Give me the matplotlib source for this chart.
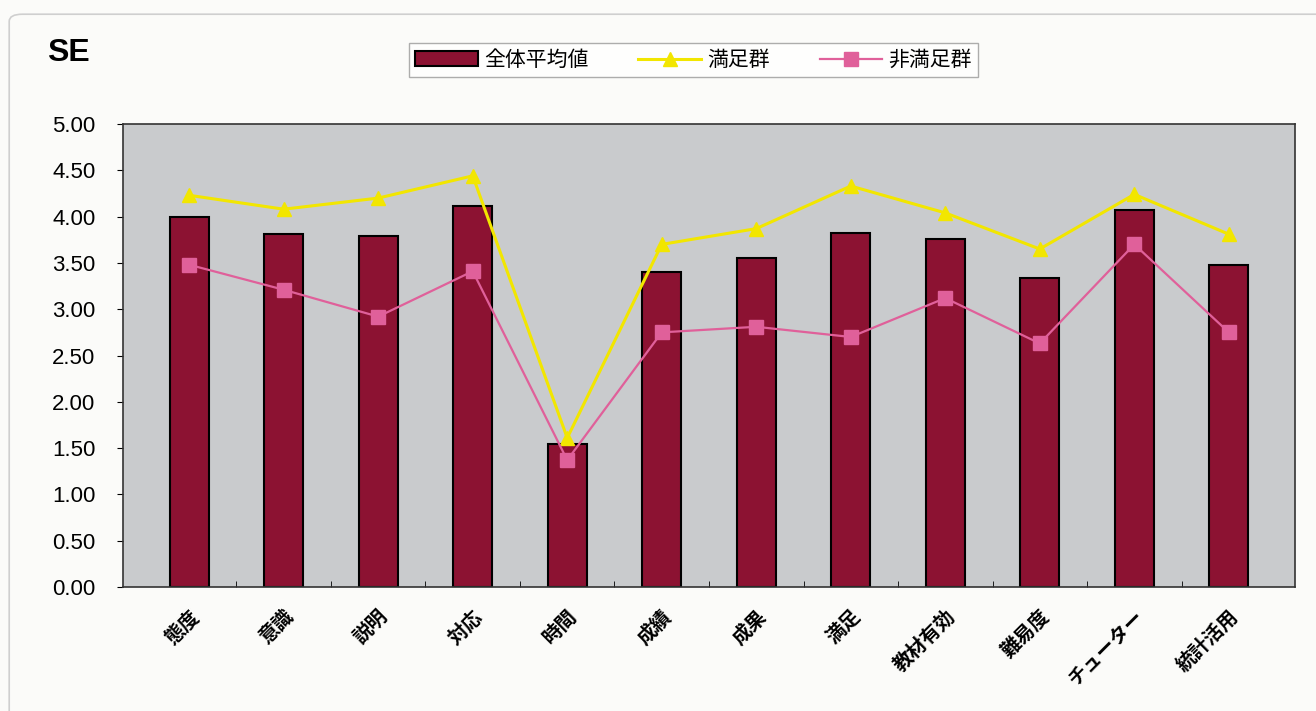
import matplotlib
matplotlib.use("Agg")
import matplotlib.pyplot as plt
import numpy as np
from matplotlib.patches import FancyBboxPatch

plt.rcParams['font.family'] = ['Noto Sans CJK JP', 'DejaVu Sans']

# data
categories = ['態度', '意識', '説明', '対応', '時間', '成績', '成果', '満足',
              '教材有効', '難易度', 'チューター', '統計活用']
overall = [4.00, 3.81, 3.79, 4.11, 1.54, 3.40, 3.55, 3.82, 3.76, 3.34, 4.07, 3.48]
satisfied = [4.23, 4.08, 4.20, 4.44, 1.61, 3.70, 3.87, 4.33, 4.04, 3.65, 4.24, 3.81]
unsatisfied = [3.48, 3.21, 2.92, 3.41, 1.37, 2.75, 2.81, 2.70, 3.12, 2.63, 3.70, 2.75]
yticks = [0.0, 0.5, 1.0, 1.5, 2.0, 2.5, 3.0, 3.5, 4.0, 4.5, 5.0]

fig = plt.figure(figsize=(13.16, 7.11), dpi=100)
fig.patch.set_facecolor('#fbfbf9')
# outer frame of the chart area
frame = FancyBboxPatch((0.007, -0.02), 1.05, 1.0, boxstyle='round,pad=0,rounding_size=0.01',
                       transform=fig.transFigure, facecolor='none', edgecolor='#cfcfcf', lw=1.2)
fig.patches.append(frame)

ax = fig.add_axes([0.0935, 0.1744, 0.8905, 0.6512])
ax.set_facecolor('#c9cbcd')

x = np.arange(len(categories))
bars = ax.bar(x, overall, width=0.41, color='#8c1232', edgecolor='black', lw=1.5,
              label='全体平均値', zorder=2)
l1, = ax.plot(x, satisfied, color='#f2e600', lw=2.2, marker='^', markersize=10,
              label='満足群', zorder=3)
l2, = ax.plot(x, unsatisfied, color='#e0609a', lw=1.6, marker='s', markersize=10,
              label='非満足群', zorder=3)

ax.set_xlim(-0.7, len(categories) - 0.3)
ax.set_ylim(0, 5)
ax.set_yticks(yticks)
ax.set_yticklabels([f'{v:.2f}' for v in yticks], fontsize=16, family=['Liberation Sans'])
ax.set_xticks(x)
ax.set_xticklabels(categories, rotation=45, ha='right', rotation_mode='anchor',
                   fontsize=14, fontweight='bold')
ax.tick_params(axis='x', length=0, pad=14)
ax.set_xticks(x[:-1] + 0.5, minor=True)
ax.tick_params(axis='x', which='minor', length=4, direction='in')
ax.tick_params(axis='y', length=4, direction='out', pad=16)
for s in ax.spines.values():
    s.set_color('#333333')
    s.set_linewidth(1.2)

fig.text(0.036, 0.925, 'SE', fontsize=23, fontweight='bold', family=['Liberation Sans'],
         ha='left', va='center')

leg = fig.legend([bars, l1, l2], ['全体平均値', '満足群', '非満足群'],
                 loc='center', bbox_to_anchor=(0.527, 0.9156), ncol=3, fontsize=15,
                 frameon=True, fancybox=False, edgecolor='#999999', handlelength=3.0,
                 columnspacing=2.4, handletextpad=0.3, borderpad=0.3)
leg.get_frame().set_linewidth(1.0)

fig.savefig('out.png', dpi=100, facecolor=fig.get_facecolor())
